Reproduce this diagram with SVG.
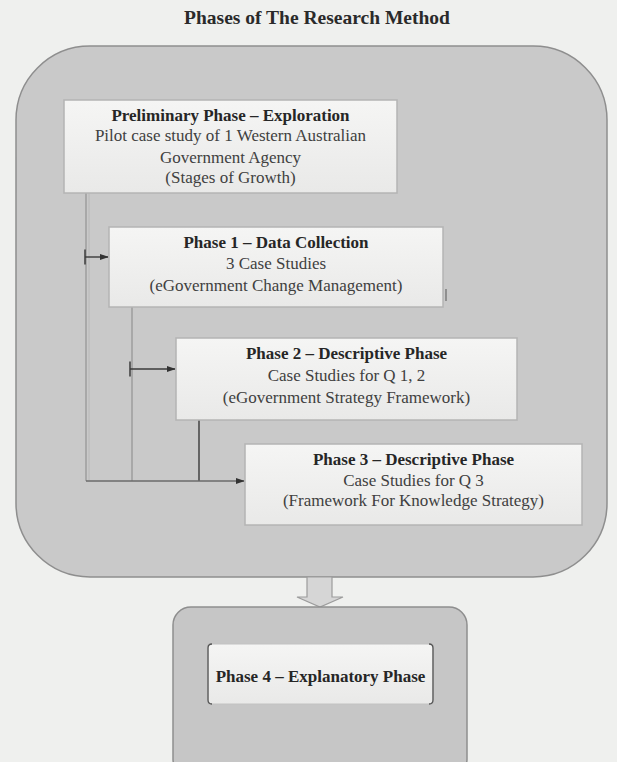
<svg xmlns="http://www.w3.org/2000/svg" width="617" height="762" viewBox="0 0 617 762">
  <defs>
    <linearGradient id="boxFill" x1="0" y1="0" x2="0" y2="1">
      <stop offset="0" stop-color="#f5f5f4"/>
      <stop offset="1" stop-color="#e9e9e8"/>
    </linearGradient>
    <marker id="head" viewBox="0 0 10 10" refX="9" refY="5" markerWidth="9" markerHeight="9" orient="auto" markerUnits="userSpaceOnUse">
      <path d="M0,1.5 L10,5 L0,8.5 Z" fill="#333"/>
    </marker>
    <marker id="tee" viewBox="0 0 4 20" refX="2" refY="10" markerWidth="3" markerHeight="18" orient="auto" markerUnits="userSpaceOnUse">
      <line x1="2" y1="0" x2="2" y2="20" stroke="#3a3a3a" stroke-width="2"/>
    </marker>
  </defs>
  <style>
    text { font-family: "Liberation Serif", "Times New Roman", serif; font-size: 17px; text-anchor: middle; fill: #404040; }
    .b { font-weight: bold; fill: #262626; }
    .title { font-size: 19.5px; font-weight: bold; fill: #2a2a2a; }
    .box { fill: url(#boxFill); stroke: #b4b4b4; stroke-width: 1.5; }
    .conn { fill: none; stroke: #3a3a3a; stroke-width: 1.4; }
    .rail { fill: none; stroke: #9a9a9a; stroke-width: 1.4; }
  </style>

  <!-- page background -->
  <rect x="0" y="0" width="617" height="762" fill="#eff0ee"/>

  <text class="title" x="317" y="24">Phases of The Research Method</text>

  <!-- outer container for phases 0-3 -->
  <g id="research-phases">
    <rect x="16" y="46" width="591" height="531" rx="74" ry="74" fill="#c9c9c9" stroke="#8e8e8e" stroke-width="1.5"/>
  </g>

  <!-- connectors -->
  <g id="connectors">
    <line class="rail" x1="86" y1="193" x2="86" y2="481"/>
    <line x1="89" y1="193" x2="89" y2="480" stroke="#b8b8b8" stroke-width="1"/>
    <line class="rail" x1="132" y1="307" x2="132" y2="481"/>
    <line class="conn" x1="199" y1="420" x2="199" y2="481"/>
    <line x1="86" y1="481" x2="244" y2="481" stroke="#6a6a6a" stroke-width="1.4" marker-end="url(#head)"/>
    <line class="conn" x1="85" y1="257" x2="108" y2="257" marker-start="url(#tee)" marker-end="url(#head)"/>
    <line class="conn" x1="130" y1="369" x2="175" y2="369" marker-start="url(#tee)" marker-end="url(#head)"/>
    <line x1="446" y1="289" x2="446" y2="301" stroke="#6a6a6a" stroke-width="1.2"/>
    <!-- block arrow down to phase 4 -->
    <path d="M307,577 L332,577 L332,597 L343,597 L320,607 L297,597 L307,597 Z" fill="#d6d6d6" stroke="#9c9c9c" stroke-width="1.2"/>
  </g>

  <g id="preliminary">
    <rect class="box" x="64" y="100" width="333" height="93"/>
    <text class="b" x="230.5" y="121">Preliminary Phase – Exploration</text>
    <text x="230.5" y="141">Pilot case study of 1 Western Australian</text>
    <text x="230.5" y="163">Government Agency</text>
    <text x="230.5" y="183">(Stages of Growth)</text>
  </g>

  <g id="phase1">
    <rect class="box" x="109" y="227" width="334" height="80"/>
    <text class="b" x="276" y="248">Phase 1 – Data Collection</text>
    <text x="276" y="269">3 Case Studies</text>
    <text x="276" y="291">(eGovernment Change Management)</text>
  </g>

  <g id="phase2">
    <rect class="box" x="176" y="338" width="341" height="82"/>
    <text class="b" x="346.5" y="359">Phase 2 – Descriptive Phase</text>
    <text x="346.5" y="381">Case Studies for Q 1, 2</text>
    <text x="346.5" y="403">(eGovernment Strategy Framework)</text>
  </g>

  <g id="phase3">
    <rect class="box" x="245" y="444" width="337" height="81"/>
    <text class="b" x="413.5" y="465">Phase 3 – Descriptive Phase</text>
    <text x="413.5" y="486">Case Studies for Q 3</text>
    <text x="413.5" y="506">(Framework For Knowledge Strategy)</text>
  </g>

  <g id="phase4">
    <rect x="173" y="607" width="294" height="170" rx="18" ry="18" fill="#c6c6c6" stroke="#8e8e8e" stroke-width="1.5"/>
    <rect x="208" y="644" width="225" height="60" fill="url(#boxFill)" stroke="#c2c2c2" stroke-width="1"/>
    <path d="M212,644 Q208,644 208,648 L208,700 Q208,704 212,704" fill="none" stroke="#555" stroke-width="1.3"/>
    <path d="M429,644 Q433,644 433,648 L433,700 Q433,704 429,704" fill="none" stroke="#555" stroke-width="1.3"/>
    <text class="b" x="320.5" y="682">Phase 4 – Explanatory Phase</text>
  </g>
</svg>
